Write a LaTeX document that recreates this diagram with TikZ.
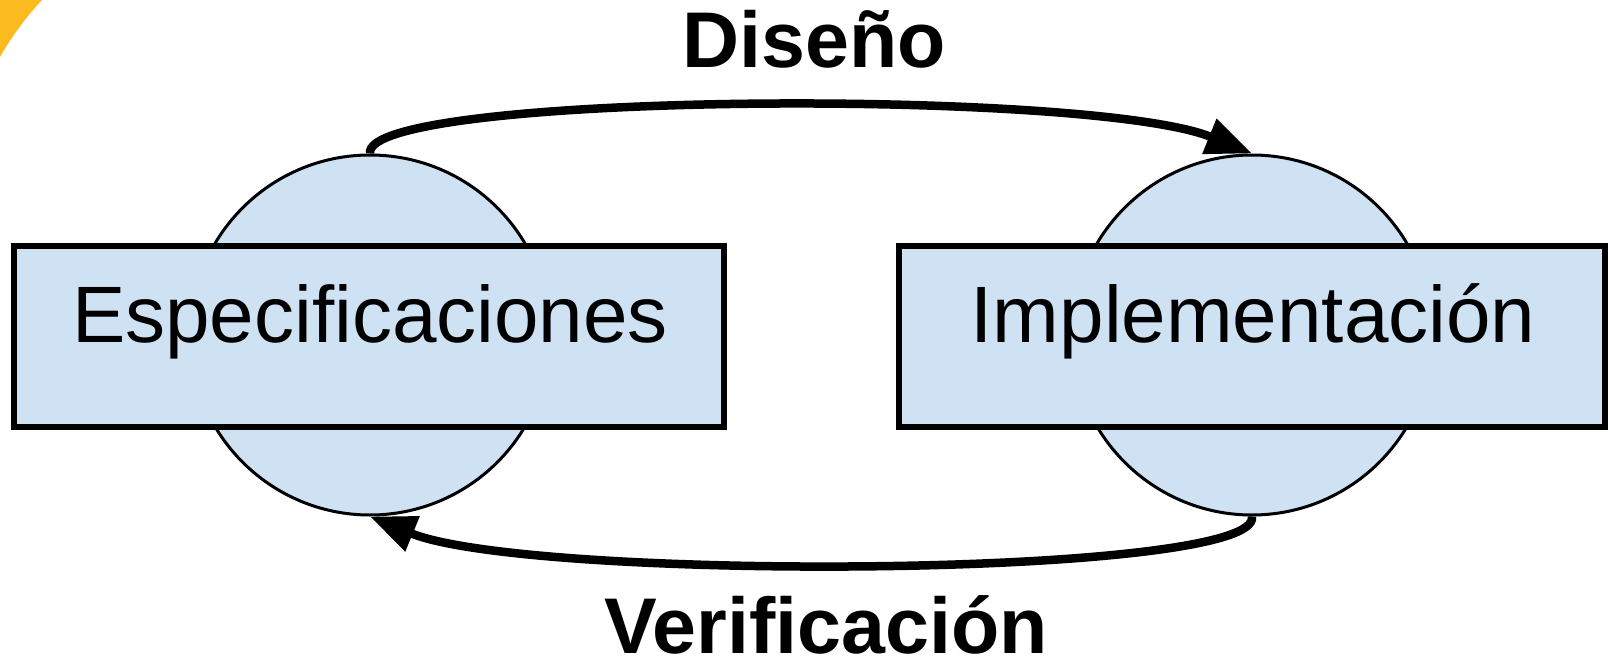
\documentclass[tikz,border=0pt]{standalone}
\usepackage{fontspec}
\setmainfont{Liberation Sans}
\usetikzlibrary{arrows.meta}
\definecolor{boxblue}{HTML}{CFE2F3}
\definecolor{ringorange}{HTML}{FBBA1E}
\begin{document}
\begin{tikzpicture}[x=1pt,y=-1pt,
  phase/.style={circle, draw=black, line width=3pt, fill=boxblue, minimum size=360pt, inner sep=0pt},
  stage/.style={rectangle, draw=black, line width=5.5pt, fill=boxblue, inner sep=0pt, minimum height=181pt},
  stagetext/.style={font=\fontsize{80}{96}\selectfont, inner sep=0pt, anchor=base},
  labeltext/.style={font=\bfseries\fontsize{79}{95}\selectfont, inner sep=0pt, anchor=base},
  flow/.style={line width=8.5pt, -{Triangle[length=46pt,width=36pt]}}
]
\useasboundingbox (0,0) rectangle (1610,661);
\fill[ringorange] (0,0) -- (42,0) .. controls (26,17) and (12,36) .. (0,57) -- cycle;
\node[phase] (ec) at (370,335) {};
\node[phase] (ic) at (1252,335) {};
\node[stage, minimum width=710pt] (eb) at (369,336.5) {};
\node[stage, minimum width=706pt] (ib) at (1252,336.5) {};
\node[stagetext] (et) at (370,342) {Especificaciones};
\node[stagetext] (it) at (1253,342) {Implementación};
\node[labeltext] (dl) at (814,68) {Diseño};
\node[labeltext] (vl) at (826,653) {Verificación};
\draw[flow] (ec.north) .. controls (362,92) and (1090,88) .. (ic.north);
\draw[flow] (ic.south) .. controls (1262,578) and (530,582) .. (ec.south);
\end{tikzpicture}
\end{document}
